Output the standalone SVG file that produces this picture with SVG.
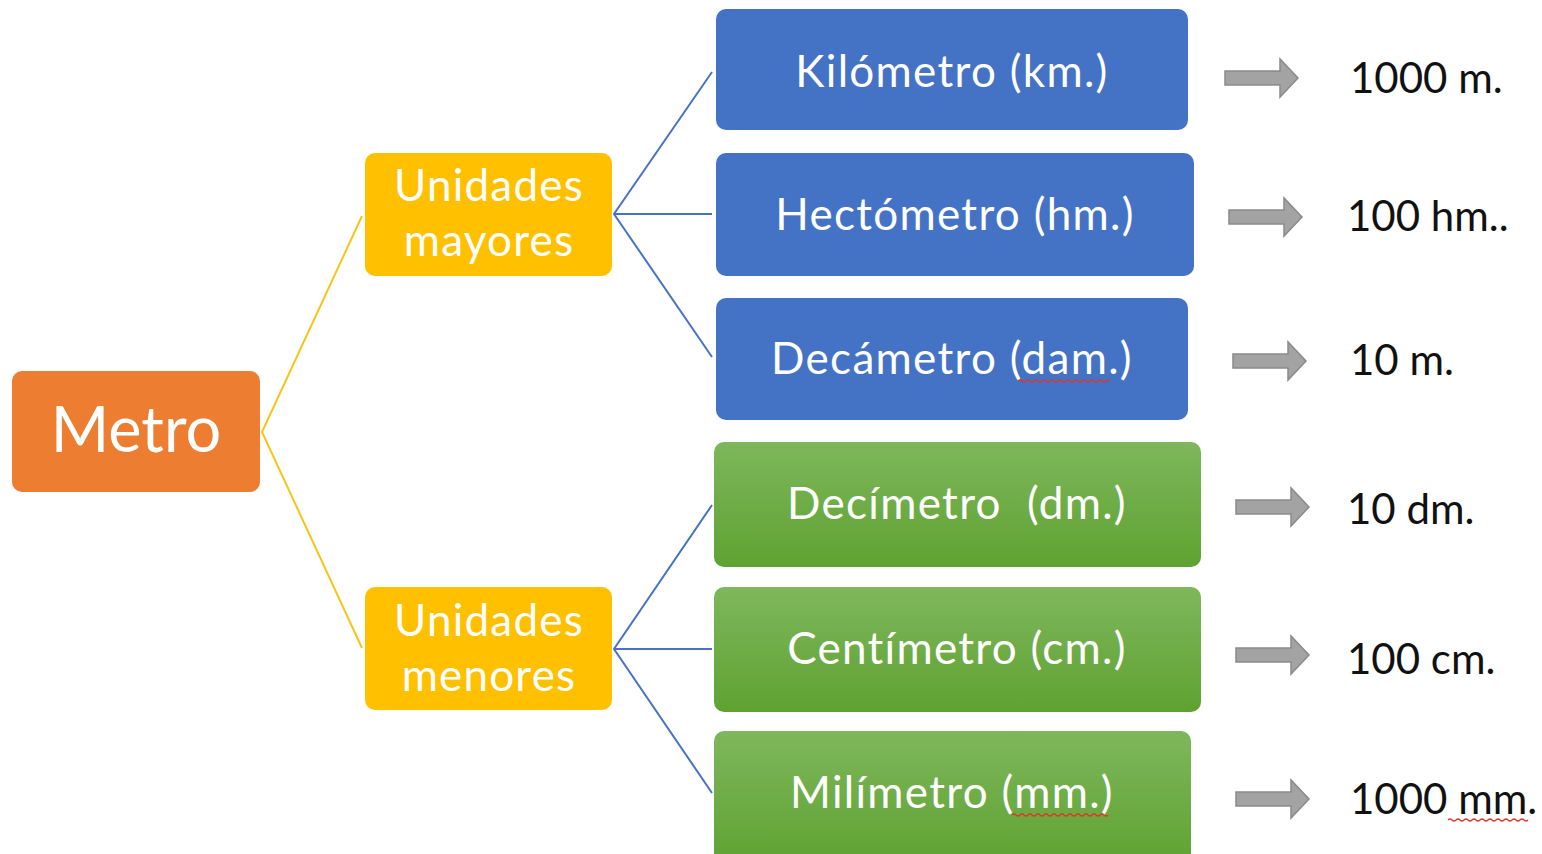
<svg xmlns="http://www.w3.org/2000/svg" width="1542" height="854" viewBox="0 0 1542 854">
<defs>
<linearGradient id="gGreen" x1="0" y1="0" x2="0" y2="1">
<stop offset="0" stop-color="#7EB75C"/>
<stop offset="1" stop-color="#5FA231"/>
</linearGradient>
<path id="arr" d="M0,-7 H55 V-19 L73,0 L55,19 V7 H0 Z"/>
</defs>
<style>
.box{stroke:none}
.org{fill:#ED7D31}
.yel{fill:#FFC000}
.blu{fill:#4472C4}
.grn{fill:url(#gGreen)}
.wt{fill:#FFFFFF;font-family:Lato,"Open Sans",sans-serif;text-anchor:middle}
.bx{font-size:44px;letter-spacing:1.3px}
.un{font-size:44px;letter-spacing:1.2px}
.bt{fill:#111111;font-family:Lato,"Open Sans",sans-serif;font-size:42px}
.ar{fill:#A3A3A3;stroke:#8A8A8A;stroke-width:1.5}
.cy{fill:none;stroke:#F5C518;stroke-width:2}
.cb{fill:none;stroke:#4A72C4;stroke-width:2}
.sq{fill:none;stroke:#E0352B;stroke-width:1.2}
</style>
<rect width="1542" height="854" fill="#FFFFFF"/>
<g id="connectors">
<path class="cy" d="M362,216 L262,432 L362,648"/>
<path class="cb" d="M712,72 L614,214 L712,357 M614,214 H712"/>
<path class="cb" d="M712,505 L614,649 L712,793 M614,649 H712"/>
</g>
<g id="metro"><rect class="box org" x="12" y="371" width="248" height="121" rx="10"/><text class="wt" x="136" y="452" font-size="63">Metro</text></g>
<g id="mayores"><rect class="box yel" x="365" y="153" width="247" height="123" rx="10"/><text class="wt un" x="489" y="201">Unidades</text><text class="wt un" x="489" y="256">mayores</text></g>
<g id="menores"><rect class="box yel" x="365" y="587" width="247" height="123" rx="10"/><text class="wt un" x="489" y="636">Unidades</text><text class="wt un" x="489" y="691">menores</text></g>
<g id="km"><rect class="box blu" x="716" y="9" width="472" height="121" rx="10"/><text class="wt bx" x="952" y="87">Kilómetro (km.)</text></g>
<g id="hm"><rect class="box blu" x="716" y="153" width="478" height="123" rx="10"/><text class="wt bx" x="955" y="230">Hectómetro (hm.)</text></g>
<g id="dam"><rect class="box blu" x="716" y="298" width="472" height="122" rx="10"/><text class="wt bx" x="952" y="374">Decámetro (dam.)</text><path class="sq" d="M1018,381 q2,-2 4,0 t4,0 t4,0 t4,0 t4,0 t4,0 t4,0 t4,0 t4,0 t4,0 t4,0 t4,0 t4,0 t4,0 t4,0 t4,0 t4,0 t4,0 t4,0 t4,0 t4,0 t4,0 t4,0"/></g>
<g id="dm"><rect class="box grn" x="714" y="442" width="487" height="125" rx="10"/><text class="wt bx" x="957" y="519" xml:space="preserve">Decímetro  (dm.)</text></g>
<g id="cm"><rect class="box grn" x="714" y="587" width="487" height="125" rx="10"/><text class="wt bx" x="957" y="664">Centímetro (cm.)</text></g>
<g id="mm"><rect class="box grn" x="714" y="731" width="477" height="135" rx="10"/><text class="wt bx" x="952" y="808">Milímetro (mm.)</text><path class="sq" d="M1012,815 q2,-2 4,0 t4,0 t4,0 t4,0 t4,0 t4,0 t4,0 t4,0 t4,0 t4,0 t4,0 t4,0 t4,0 t4,0 t4,0 t4,0 t4,0 t4,0 t4,0 t4,0 t4,0 t4,0 t4,0 t4,0"/></g>
<g id="arrows">
<use href="#arr" class="ar" x="1225" y="78"/>
<use href="#arr" class="ar" x="1229" y="217"/>
<use href="#arr" class="ar" x="1233" y="361"/>
<use href="#arr" class="ar" x="1236" y="507"/>
<use href="#arr" class="ar" x="1236" y="655"/>
<use href="#arr" class="ar" x="1236" y="799"/>
</g>
<g id="values">
<text class="bt" x="1350" y="93">1000 m.</text>
<text class="bt" x="1347" y="231">100 hm..</text>
<text class="bt" x="1350" y="375">10 m.</text>
<text class="bt" x="1347" y="524">10 dm.</text>
<text class="bt" x="1347" y="674">100 cm.</text>
<text class="bt" x="1350" y="814">1000 mm.</text>
<path class="sq" d="M1448,820 q2,-2 4,0 t4,0 t4,0 t4,0 t4,0 t4,0 t4,0 t4,0 t4,0 t4,0 t4,0 t4,0 t4,0 t4,0 t4,0 t4,0 t4,0 t4,0 t4,0 t4,0"/>
</g>
</svg>
